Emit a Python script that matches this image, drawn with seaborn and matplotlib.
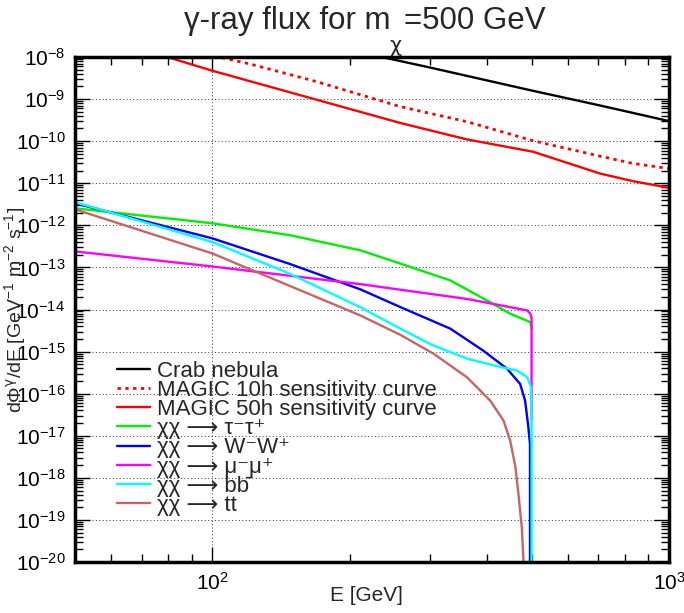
import numpy as np
import pandas as pd
import seaborn as sns
import matplotlib
matplotlib.use("Agg")
import matplotlib.pyplot as plt
from matplotlib.ticker import LogLocator, NullFormatter, LogFormatterSciNotation

# ---------------- data ----------------
crab_E = [230, 300, 500, 700, 1000]
crab_F = [1.05e-8, 5.6e-9, 1.6e-9, 7.2e-10, 3.0e-10]

magic10_E = [101, 121, 169, 258, 361, 504, 706, 834, 1000]
magic10_F = [1.05e-8, 6.8e-9, 2.6e-9, 6.6e-10, 2.9e-10, 1.02e-10, 4.4e-11, 2.95e-11, 2.24e-11]

magic50_E = [78, 100, 258, 361, 504, 706, 834, 1000]
magic50_F = [1.07e-8, 4.7e-9, 2.7e-10, 1.1e-10, 5.6e-11, 1.7e-11, 1.12e-11, 7.8e-12]

tau_E = [50, 100, 148, 211, 258, 332, 406, 449, 497, 500]
tau_F = [2.54e-12, 1.12e-12, 5.8e-13, 2.54e-13, 1.23e-13, 4.9e-14, 1.48e-14, 7.9e-15, 5.0e-15, 3.5e-15]

ww_E = [50, 100, 148, 211, 258, 332, 392, 442, 472, 484, 492, 496, 496]
ww_F = [3.34e-12, 4.9e-13, 1.2e-13, 3.0e-14, 1.14e-14, 3.5e-15, 1.05e-15, 3.9e-16, 1.7e-16, 6.8e-17, 1.6e-17, 6.3e-18, 3e-21]

mu_E = [50, 100, 211, 258, 361, 427, 489, 497, 500, 500]
mu_F = [2.4e-13, 1.05e-13, 4.0e-14, 2.95e-14, 1.78e-14, 1.26e-14, 9.5e-15, 7.9e-15, 6.3e-15, 2.5e-17]

bb_E = [50, 100, 148, 211, 258, 305, 361, 427, 464, 489, 499, 500, 500]
bb_F = [3.55e-12, 4.0e-13, 7.0e-14, 1.12e-14, 3.5e-15, 1.38e-15, 6.8e-16, 4.3e-16, 3.55e-16, 2.45e-16, 1.4e-16, 3.3e-17, 3e-21]

tt_E = [50, 100, 211, 258, 305, 361, 406, 434, 449, 461, 468, 476, 480, 481]
tt_F = [2.4e-12, 2.14e-13, 7.2e-15, 2.5e-15, 8.9e-16, 2.45e-16, 6.8e-17, 2.3e-17, 7.6e-18, 1.78e-18, 4.1e-19, 6.6e-20, 1.05e-20, 3e-21]

labels = ["Crab nebula", "MAGIC 10h sensitivity curve", "MAGIC 50h sensitivity curve",
          "χχ ⟶ τ⁻τ⁺", "χχ ⟶ W⁻W⁺", "χχ ⟶ μ⁻μ⁺", "χχ ⟶ bb\u0304", "χχ ⟶ tt"]

# ---------------- style ----------------
sns.set_style("ticks")
plt.rcParams["font.family"] = ["Liberation Sans", "DejaVu Sans"]
plt.rcParams["mathtext.fontset"] = "custom"
plt.rcParams["mathtext.rm"] = "Liberation Sans"
plt.rcParams["mathtext.it"] = "DejaVu Sans"
plt.rcParams["mathtext.bf"] = "Liberation Sans:bold"
plt.rcParams["axes.unicode_minus"] = False

fig = plt.figure(figsize=(6.84, 6.13), dpi=100)
ax = fig.add_axes([75 / 684, 1 - 562 / 613, 594 / 684, 505 / 613])
ax.set_xscale("log")
ax.set_yscale("log")


def draw(E, F, color, label, ls="-", lw=1.7):
    df = pd.DataFrame({"E": E, "F": F})
    sns.lineplot(data=df, x="E", y="F", ax=ax, color=color, label=label,
                 estimator=None, sort=False, lw=lw, linestyle=ls)


draw(crab_E, crab_F, "black", labels[0])
draw(magic10_E, magic10_F, "#ff0000", labels[1], ls=(0, (1.2, 1.6)), lw=2.0)
draw(magic50_E, magic50_F, "#ff0000", labels[2])
draw(tau_E, tau_F, "#00ee00", labels[3])
draw(ww_E, ww_F, "#0000ff", labels[4])
draw(mu_E, mu_F, "#ff00ff", labels[5])
draw(bb_E, bb_F, "#00ffff", labels[6])
draw(tt_E, tt_F, "#c86464", labels[7])

ax.set_xlim(50, 1000)
ax.set_ylim(1e-20, 1e-8)

ax.xaxis.set_major_locator(LogLocator(base=10, numticks=20))
ax.xaxis.set_minor_locator(LogLocator(base=10, subs=np.arange(2, 10), numticks=20))
ax.xaxis.set_minor_formatter(NullFormatter())
ax.yaxis.set_major_locator(LogLocator(base=10, numticks=30))
ax.yaxis.set_minor_locator(LogLocator(base=10, subs=np.arange(2, 10), numticks=30))
ax.yaxis.set_minor_formatter(NullFormatter())
ax.yaxis.set_major_formatter(LogFormatterSciNotation())

ax.tick_params(which="both", direction="in", top=True, right=True, colors="black",
               labelsize=15, width=1.0)
ax.tick_params(which="major", length=11, pad=7)
ax.tick_params(which="minor", length=6)

ax.grid(True, which="major", color="#333333", linestyle=(0, (1, 2.5)), linewidth=0.7)
for s in ax.spines.values():
    s.set_linewidth(2.5)
    s.set_color("black")

ax.set_xlabel("E [GeV]", fontsize=15)
ax.xaxis.set_label_coords(0.49, -0.048)
ax.set_ylabel(r"d$\Phi^{\gamma}$/dE [GeV$^{-1}$ m$^{-2}$ s$^{-1}$]", fontsize=14)
ax.yaxis.set_label_coords(-0.078, 0.5)

# title: "γ-ray flux for m_χ=500 GeV" with the χ subscript hanging low, as in the reference
renderer = fig.canvas.get_renderer()
t1 = fig.text(0, 0, "γ-ray flux for m", fontsize=22.5, va="baseline")
t2 = fig.text(0, 0, "=500 GeV", fontsize=22.5, va="baseline")
w1 = t1.get_window_extent(renderer).width
w2 = t2.get_window_extent(renderer).width
gap = 13
left = 365 - (w1 + gap + w2) / 2
W, H = 684, 613
base_y = 1 - 29 / H
t1.set_position((left / W, base_y))
t2.set_position(((left + w1 + gap) / W, base_y))
fig.text((left + w1 + gap / 2 - 2) / W, 1 - 46 / H, "χ", fontsize=15,
         family=["DejaVu Sans"], ha="center", va="center")

ax.legend(loc="upper left", bbox_to_anchor=(0.07, 0.399), frameon=False, fontsize=16,
          labelspacing=-0.08, handlelength=1.5, handletextpad=0.3,
          borderaxespad=0, borderpad=0)

fig.savefig("out.png", dpi=100)
